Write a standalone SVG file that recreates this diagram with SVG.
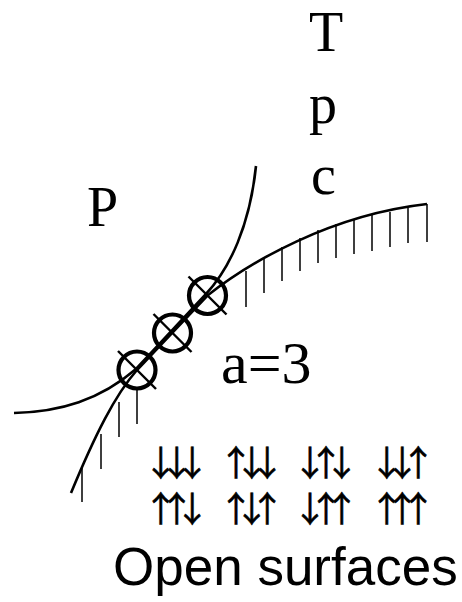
<svg xmlns="http://www.w3.org/2000/svg" width="462" height="602" viewBox="0 0 462 602">
<style>
.curve{fill:none;stroke:#000;stroke-width:2.6}
.hatch{fill:none;stroke:#000;stroke-width:1.5}
.ring{fill:none;stroke:#000;stroke-width:4.2}
.cross{stroke:#000;stroke-width:2.4}
.serif{font-family:"Liberation Serif","Times New Roman",serif;font-size:56px;fill:#000}
.big{font-size:60px}
.arr{font-family:"Noto Sans CJK SC","DejaVu Sans",sans-serif;font-size:35px;fill:#000;stroke:#000;stroke-width:0.5;text-anchor:middle}
.sans{font-family:"Liberation Sans",Arial,sans-serif;font-size:53px;fill:#000}
</style>
<rect width="462" height="602" fill="#fff"/>
<g id="connectors">
<path id="curve-P" class="curve" d="M14,413 C60,412 100,400 136,369 L206,294 C230,268 250,225 256,166"/>
<path id="curve-hatched" class="curve" d="M71,493 C95,435 115,395 137,370 L207.5,295.5 C250,262 330,215 427,204"/>
<g id="hatching" class="hatch">
<path d="M246,271V307M264,258V293M282,247V281M300,238V271M318,230V263M336,224V258M354,219V254M372,215V251M390,212V247M408,208V243M427,204V242"/>
<path d="M137,389V424M119,402V437M101,434V469M82,467V502"/>
</g>
</g>
<g id="node-1">
<circle class="ring" cx="137" cy="370" r="18.5"/>
<line class="cross" x1="118" y1="351" x2="156" y2="389"/>
</g>
<g id="node-2">
<circle class="ring" cx="172.5" cy="333" r="18.5"/>
<line class="cross" x1="153.5" y1="314" x2="191.5" y2="352"/>
</g>
<g id="node-3">
<circle class="ring" cx="207.5" cy="295.5" r="18.5"/>
<line class="cross" x1="188.5" y1="276.5" x2="226.5" y2="314.5"/>
</g>
<g id="labels">
<text class="serif" x="309" y="51">T</text>
<text class="serif" x="309" y="123">p</text>
<text class="serif" x="311" y="194">c</text>
<text class="serif" x="87" y="226">P</text>
<text class="serif big" x="221" y="383">a=3</text>
<g class="arr">
<text x="160.7 176.7 192.3" y="476">↓↓↓</text>
<text x="236 251.7 267.3" y="476">↑↓↓</text>
<text x="310 326 341.7" y="476">↓↑↓</text>
<text x="386.7 402.3 418.3" y="476">↓↓↑</text>
<text x="160.7 176.7 192.3" y="522">↑↑↓</text>
<text x="236 251.7 267.3" y="522">↑↓↑</text>
<text x="310 326 341.7" y="522">↓↑↑</text>
<text x="386.7 402.3 418.3" y="522">↑↑↑</text>
</g>
<text class="sans" x="113" y="585">Open surfaces</text>
</g>
</svg>
